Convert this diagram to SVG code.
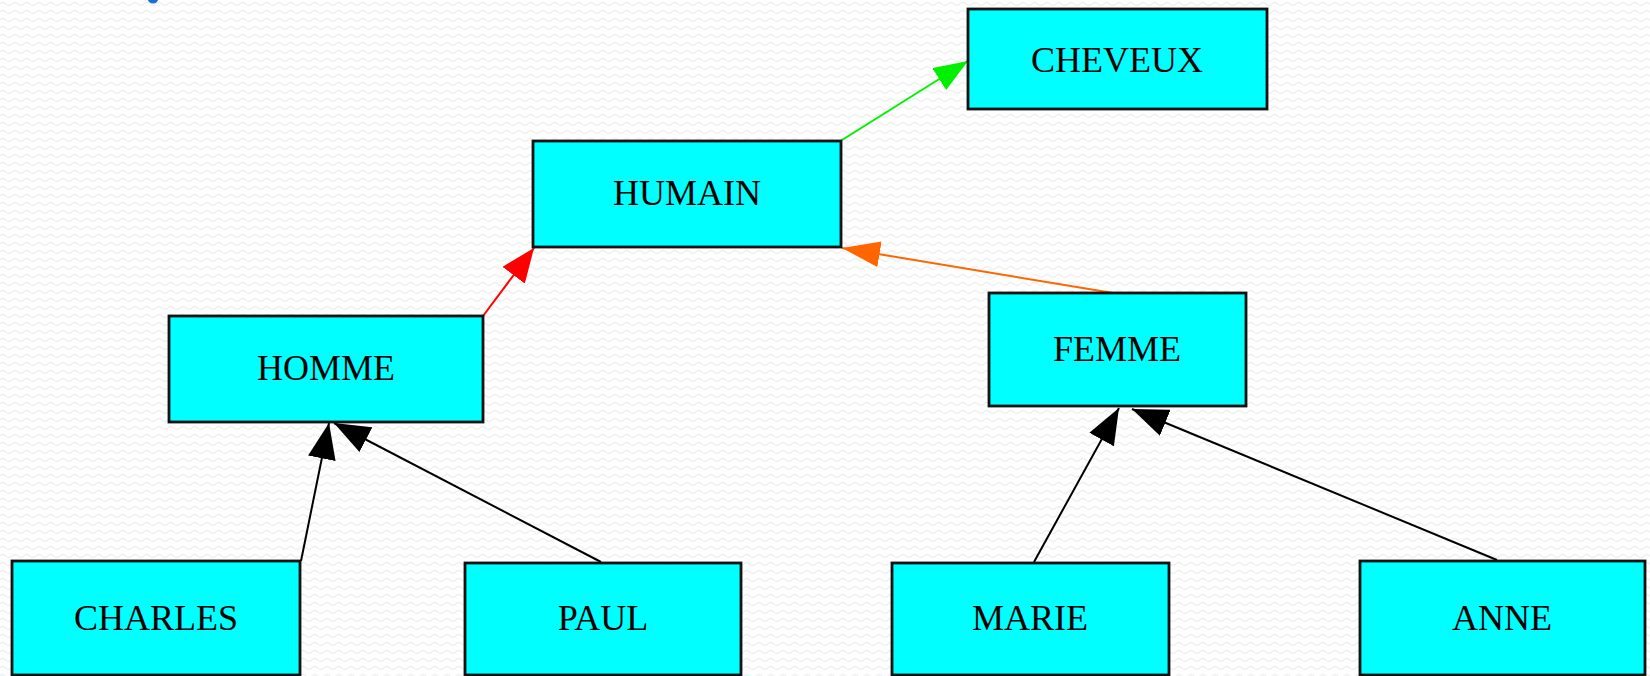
<svg xmlns="http://www.w3.org/2000/svg" width="1650" height="676" viewBox="0 0 1650 676">
  <defs>
    <!-- faint wavy paper texture -->
    <pattern id="paper" width="12" height="8" patternUnits="userSpaceOnUse">
      <rect width="12" height="8" fill="#ffffff"/>
      <path d="M0,4 Q3,1 6,4 T12,4" fill="none" stroke="#efefef" stroke-width="1.2"/>
    </pattern>
    <marker id="arrow-green" markerUnits="userSpaceOnUse" markerWidth="34" markerHeight="26" refX="34" refY="13" orient="auto">
      <path d="M0,0 L34,13 L0,26 z" fill="#00f000"/>
    </marker>
    <marker id="arrow-red" markerUnits="userSpaceOnUse" markerWidth="34" markerHeight="28" refX="34" refY="14" orient="auto">
      <path d="M0,0 L34,14 L0,28 z" fill="#ff0000"/>
    </marker>
    <marker id="arrow-orange" markerUnits="userSpaceOnUse" markerWidth="38" markerHeight="26" refX="38" refY="13" orient="auto">
      <path d="M0,0 L38,13 L0,26 z" fill="#ff6600"/>
    </marker>
    <marker id="arrow-black" markerUnits="userSpaceOnUse" markerWidth="36" markerHeight="28" refX="36" refY="14" orient="auto">
      <path d="M0,0 L36,14 L0,28 z" fill="#000000"/>
    </marker>
  </defs>
  <style>
    .box { fill: #00ffff; stroke: #111111; stroke-width: 2.8; }
    .label { font-family: "Liberation Serif", "Times New Roman", serif; font-size: 36px; fill: #000000; text-anchor: middle; }
    .edge { fill: none; stroke-width: 2; }
  </style>

  <rect width="1650" height="676" fill="url(#paper)"/>
  <circle cx="153" cy="-2" r="5.5" fill="#1a6fd0"/>

  <g id="connectors">
    <line class="edge" x1="842" y1="140" x2="968" y2="61" stroke="#00f000" marker-end="url(#arrow-green)"/>
    <line class="edge" x1="483" y1="316" x2="534" y2="248" stroke="#ff0000" marker-end="url(#arrow-red)"/>
    <line class="edge" x1="1113" y1="293" x2="842" y2="248" stroke="#ff6600" marker-end="url(#arrow-orange)"/>
    <line class="edge" x1="301" y1="561" x2="329" y2="423" stroke="#000000" marker-end="url(#arrow-black)"/>
    <line class="edge" x1="601" y1="562" x2="334" y2="423" stroke="#000000" marker-end="url(#arrow-black)"/>
    <line class="edge" x1="1034" y1="562" x2="1119" y2="408" stroke="#000000" marker-end="url(#arrow-black)"/>
    <line class="edge" x1="1497" y1="560" x2="1132" y2="409" stroke="#000000" marker-end="url(#arrow-black)"/>
  </g>

  <g id="cheveux">
    <rect class="box" x="968" y="9" width="299" height="100"/>
    <text class="label" x="1117" y="72">CHEVEUX</text>
  </g>
  <g id="humain">
    <rect class="box" x="533" y="141" width="308" height="106"/>
    <text class="label" x="687" y="205">HUMAIN</text>
  </g>
  <g id="homme">
    <rect class="box" x="169" y="316" width="314" height="106"/>
    <text class="label" x="326" y="380">HOMME</text>
  </g>
  <g id="femme">
    <rect class="box" x="989" y="293" width="257" height="113"/>
    <text class="label" x="1117" y="361">FEMME</text>
  </g>
  <g id="charles">
    <rect class="box" x="12" y="561" width="288" height="114"/>
    <text class="label" x="156" y="630">CHARLES</text>
  </g>
  <g id="paul">
    <rect class="box" x="465" y="563" width="276" height="112"/>
    <text class="label" x="603" y="630">PAUL</text>
  </g>
  <g id="marie">
    <rect class="box" x="892" y="563" width="277" height="112"/>
    <text class="label" x="1030" y="630">MARIE</text>
  </g>
  <g id="anne">
    <rect class="box" x="1360" y="561" width="285" height="114"/>
    <text class="label" x="1502" y="630">ANNE</text>
  </g>
</svg>
